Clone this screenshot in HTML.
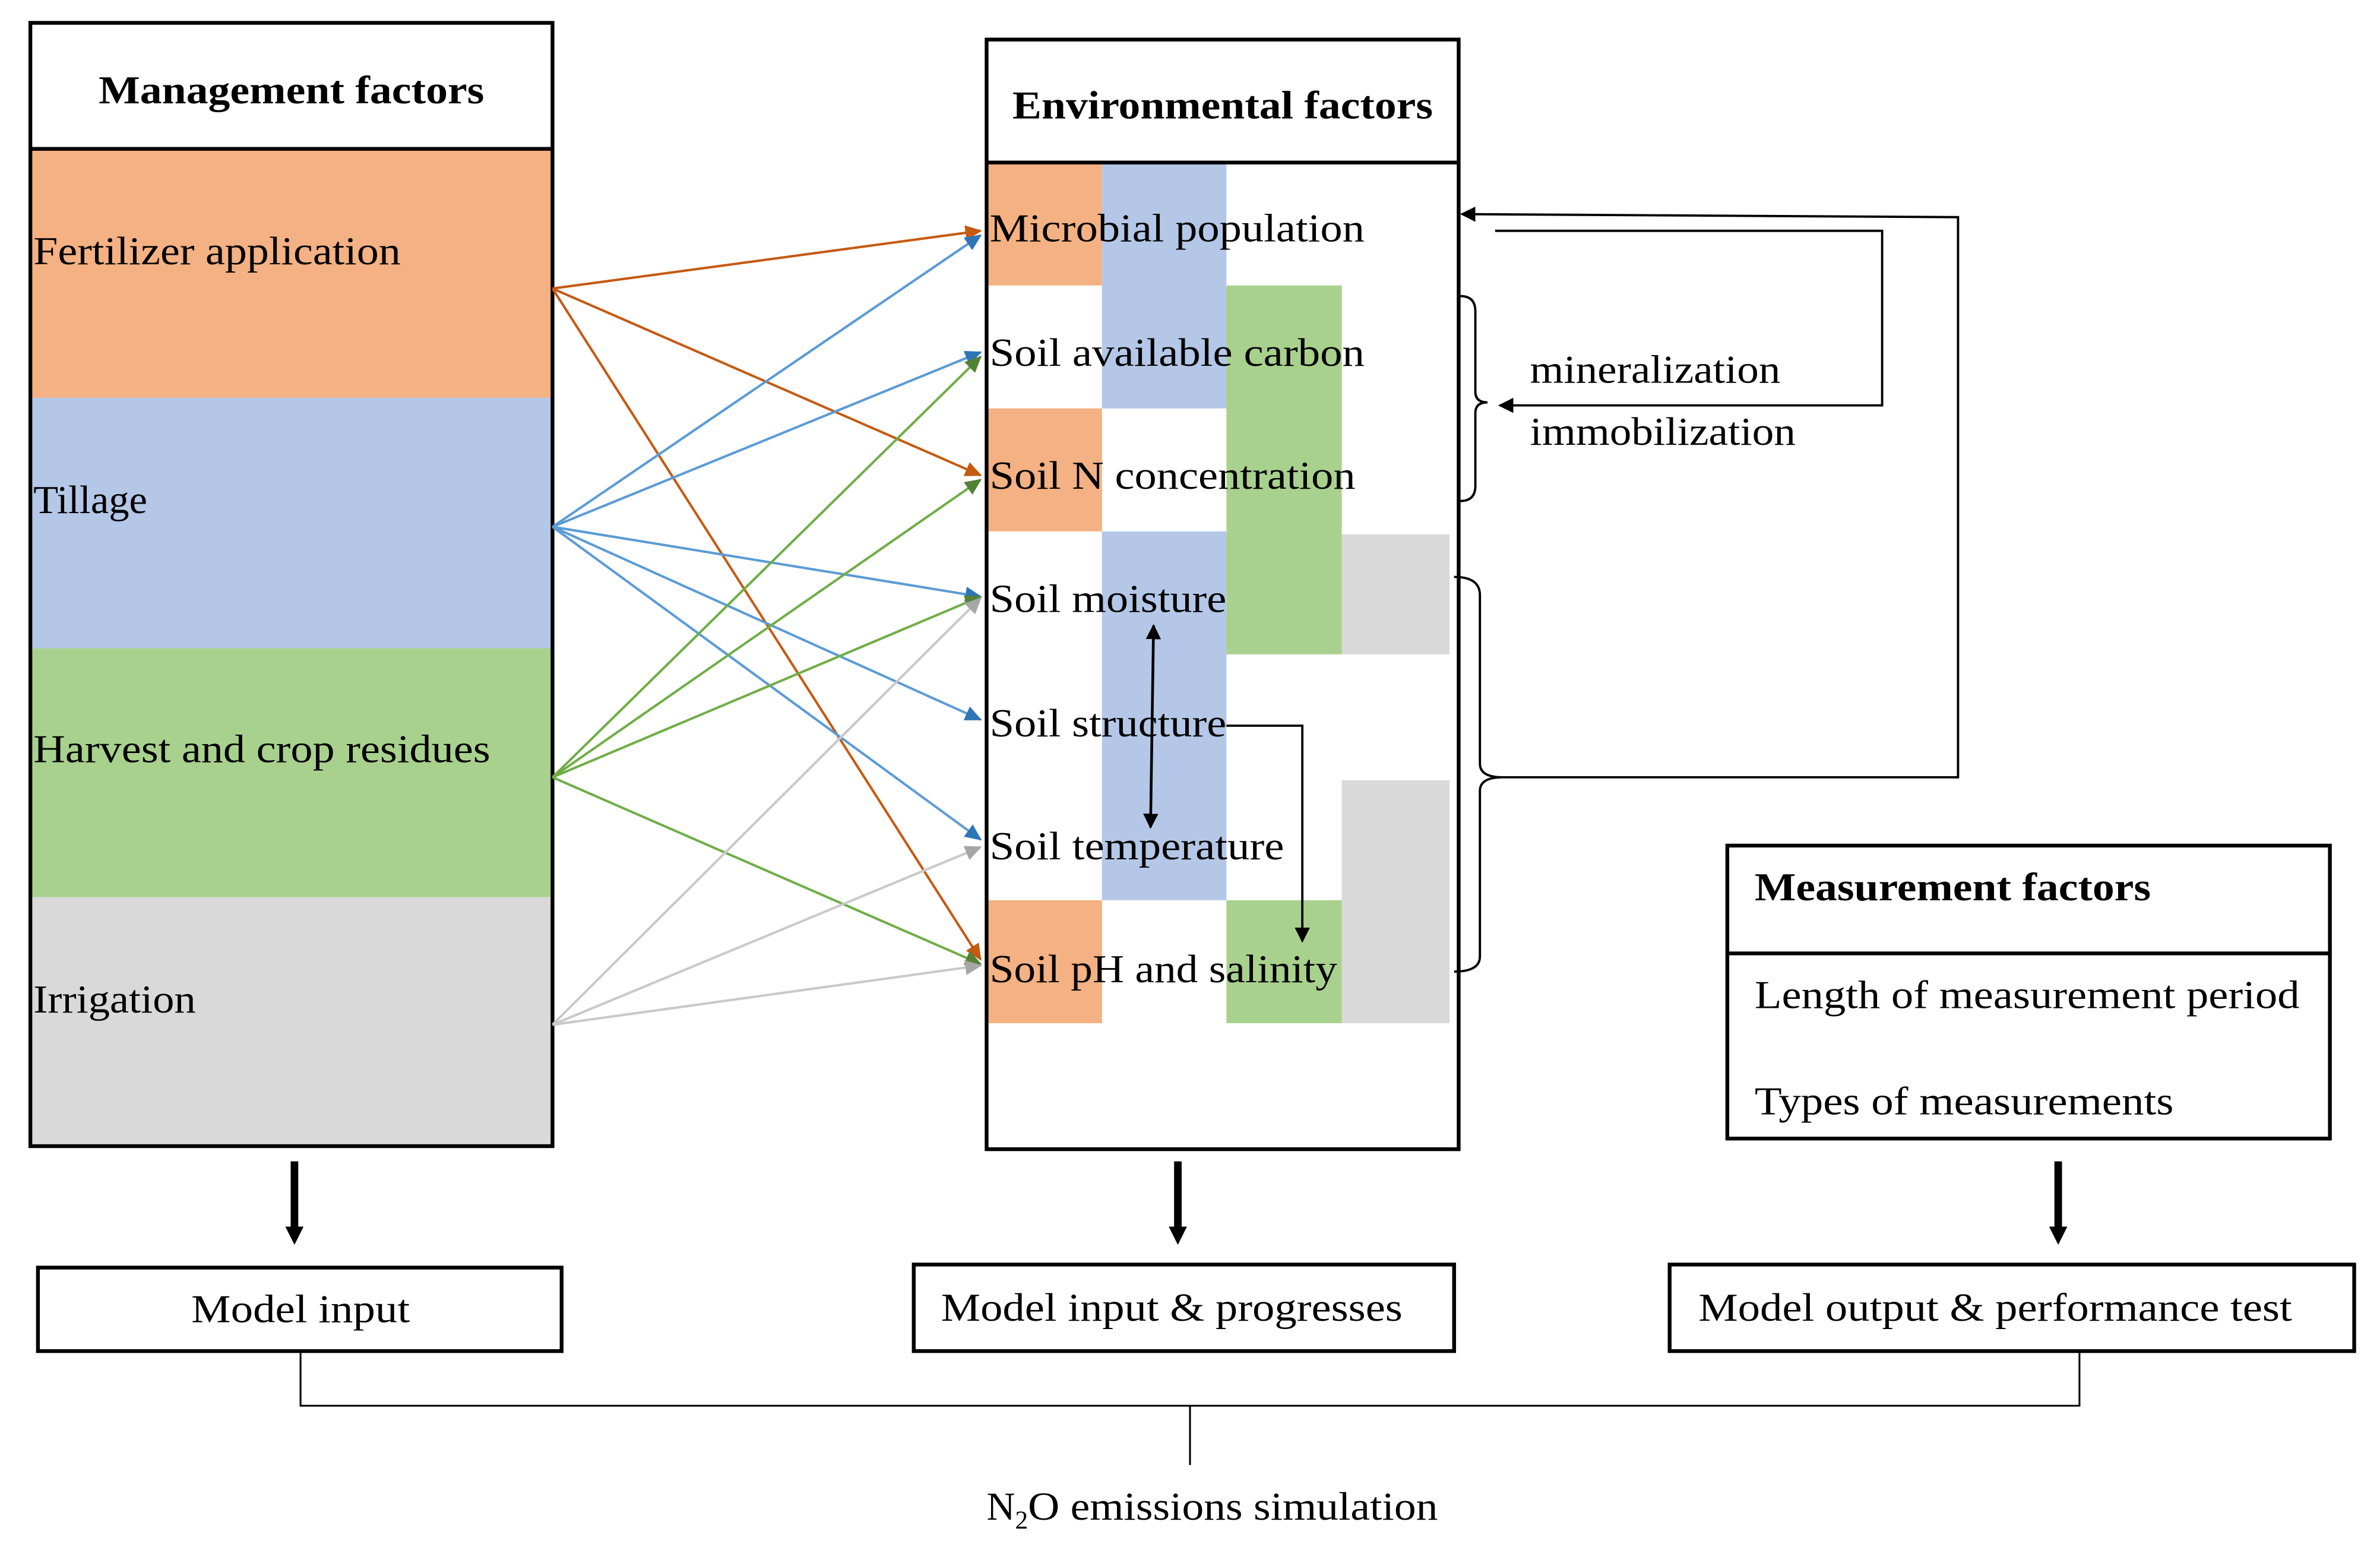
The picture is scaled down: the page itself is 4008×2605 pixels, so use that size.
<!DOCTYPE html>
<html><head><meta charset="utf-8"><style>html,body{margin:0;padding:0;background:#fff}svg{display:block}</style></head>
<body>
<svg width="4008" height="2605" viewBox="0 0 1568 1019" xmlns="http://www.w3.org/2000/svg" font-family="Liberation Serif, serif" font-size="26">
<defs>
<marker id="ao" markerWidth="11" markerHeight="10" refX="10" refY="5" orient="auto" markerUnits="userSpaceOnUse" viewBox="0 0 11 10"><path d="M0,0L11,5L0,10z" fill="#C55A11"/></marker>
<marker id="ab" markerWidth="11" markerHeight="10" refX="10" refY="5" orient="auto" markerUnits="userSpaceOnUse" viewBox="0 0 11 10"><path d="M0,0L11,5L0,10z" fill="#2E75B6"/></marker>
<marker id="ag" markerWidth="11" markerHeight="10" refX="10" refY="5" orient="auto" markerUnits="userSpaceOnUse" viewBox="0 0 11 10"><path d="M0,0L11,5L0,10z" fill="#548235"/></marker>
<marker id="ay" markerWidth="11" markerHeight="10" refX="10" refY="5" orient="auto" markerUnits="userSpaceOnUse" viewBox="0 0 11 10"><path d="M0,0L11,5L0,10z" fill="#A6A6A6"/></marker>
<marker id="ak" markerWidth="10" markerHeight="10" refX="9" refY="5" orient="auto" markerUnits="userSpaceOnUse" viewBox="0 0 10 10"><path d="M0,0L10,5L0,10z" fill="#000"/></marker>
<marker id="ak2" markerWidth="10" markerHeight="10" refX="9" refY="5" orient="auto-start-reverse" markerUnits="userSpaceOnUse" viewBox="0 0 10 10"><path d="M0,0L10,5L0,10z" fill="#000"/></marker>
</defs>
<rect x="20" y="98" width="344" height="164" fill="#F4B183"/>
<rect x="20" y="262" width="344" height="165" fill="#B4C7E7"/>
<rect x="20" y="427" width="344" height="164" fill="#A9D18E"/>
<rect x="20" y="591" width="344" height="164" fill="#D9D9D9"/>
<rect x="20" y="15" width="344" height="740" fill="none" stroke="#000" stroke-width="2.5"/>
<line x1="20" y1="98" x2="364" y2="98" stroke="#000" stroke-width="2.5"/>
<text x="65" y="68" font-weight="bold" textLength="254" lengthAdjust="spacingAndGlyphs">Management factors</text>
<text x="22" y="174" textLength="242" lengthAdjust="spacingAndGlyphs">Fertilizer  application</text>
<text x="22" y="338" textLength="75" lengthAdjust="spacingAndGlyphs">Tillage</text>
<text x="22" y="502" textLength="301" lengthAdjust="spacingAndGlyphs">Harvest and crop residues</text>
<text x="22" y="667" textLength="107" lengthAdjust="spacingAndGlyphs">Irrigation</text>
<g>
<rect x="650" y="107" width="76" height="81" fill="#F4B183"/>
<rect x="650" y="269" width="76" height="81" fill="#F4B183"/>
<rect x="650" y="593" width="76" height="81" fill="#F4B183"/>
<rect x="726" y="107" width="82" height="162" fill="#B4C7E7"/>
<rect x="726" y="350" width="82" height="243" fill="#B4C7E7"/>
<rect x="808" y="188" width="76" height="243" fill="#A9D18E"/>
<rect x="808" y="593" width="76" height="81" fill="#A9D18E"/>
<rect x="884" y="352" width="71" height="79" fill="#D9D9D9"/>
<rect x="884" y="514" width="71" height="160" fill="#D9D9D9"/>
</g>
<rect x="650" y="26" width="311" height="731" fill="none" stroke="#000" stroke-width="2.5"/>
<line x1="650" y1="107" x2="961" y2="107" stroke="#000" stroke-width="2.5"/>
<text x="667" y="78" font-weight="bold" textLength="277" lengthAdjust="spacingAndGlyphs">Environmental factors</text>
<g>
<text x="652" y="159" textLength="247" lengthAdjust="spacingAndGlyphs">Microbial  population</text>
<text x="652" y="241" textLength="247" lengthAdjust="spacingAndGlyphs">Soil  available  carbon</text>
<text x="652" y="322" textLength="241" lengthAdjust="spacingAndGlyphs">Soil N  concentration</text>
<text x="652" y="403" textLength="156" lengthAdjust="spacingAndGlyphs">Soil  moisture</text>
<text x="652" y="485" textLength="156" lengthAdjust="spacingAndGlyphs">Soil  structure</text>
<text x="652" y="566" textLength="194" lengthAdjust="spacingAndGlyphs">Soil  temperature</text>
<text x="652" y="647" textLength="229" lengthAdjust="spacingAndGlyphs">Soil  pH and  salinity</text>
</g>
<g stroke-width="1.6" fill="none">
<g stroke="#C55A11" marker-end="url(#ao)">
<line x1="364" y1="190" x2="646" y2="152"/>
<line x1="364" y1="190" x2="646" y2="313"/>
<line x1="364" y1="190" x2="646" y2="632"/>
</g>
<g stroke="#5B9BD5" marker-end="url(#ab)">
<line x1="364" y1="347" x2="646" y2="155"/>
<line x1="364" y1="347" x2="646" y2="232"/>
<line x1="364" y1="347" x2="646" y2="393"/>
<line x1="364" y1="347" x2="646" y2="474"/>
<line x1="364" y1="347" x2="646" y2="553"/>
</g>
<g stroke="#70AD47" marker-end="url(#ag)">
<line x1="364" y1="512" x2="646" y2="235"/>
<line x1="364" y1="512" x2="646" y2="316"/>
<line x1="364" y1="512" x2="646" y2="393"/>
<line x1="364" y1="512" x2="646" y2="635"/>
</g>
<g stroke="#C9C9C9" marker-end="url(#ay)">
<line x1="364" y1="675" x2="646" y2="394"/>
<line x1="364" y1="675" x2="646" y2="558"/>
<line x1="364" y1="675" x2="646" y2="636"/>
</g>
</g>
<line x1="760" y1="412" x2="758" y2="545" stroke="#000" stroke-width="1.8" marker-start="url(#ak2)" marker-end="url(#ak2)"/>
<polyline points="808,478 858,478 858,620" fill="none" stroke="#000" stroke-width="1.5" marker-end="url(#ak)"/>
<path d="M962,195 Q972,195 972,205 L972,258 Q972,265 980,265 Q972,265 972,272 L972,320 Q972,330 962,330" fill="none" stroke="#000" stroke-width="1.5"/>
<path d="M958,380 Q975,380 975,392 L975,503 Q975,512 990,512 Q975,512 975,521 L975,630 Q975,640 958,640" fill="none" stroke="#000" stroke-width="1.5"/>
<polyline points="990,512 1290,512 1290,143 963,141" fill="none" stroke="#000" stroke-width="1.5" marker-end="url(#ak)"/>
<polyline points="985,152 1240,152 1240,267 988,267" fill="none" stroke="#000" stroke-width="1.5" marker-end="url(#ak)"/>
<text x="1008" y="252" textLength="165" lengthAdjust="spacingAndGlyphs">mineralization</text>
<text x="1008" y="293" textLength="175" lengthAdjust="spacingAndGlyphs">immobilization</text>
<rect x="1138" y="557" width="397" height="193" fill="none" stroke="#000" stroke-width="2.5"/>
<line x1="1138" y1="628" x2="1535" y2="628" stroke="#000" stroke-width="2.5"/>
<text x="1156" y="593" font-weight="bold" textLength="261" lengthAdjust="spacingAndGlyphs">Measurement factors</text>
<text x="1156" y="664" textLength="359" lengthAdjust="spacingAndGlyphs">Length of measurement period</text>
<text x="1156" y="734" textLength="276" lengthAdjust="spacingAndGlyphs">Types of measurements</text>
<g stroke="#000" stroke-width="5">
<line x1="194" y1="765" x2="194" y2="812"/>
<line x1="776" y1="765" x2="776" y2="812"/>
<line x1="1356" y1="765" x2="1356" y2="812"/>
</g>
<g fill="#000">
<path d="M188,808L200,808L194,820z"/>
<path d="M770,808L782,808L776,820z"/>
<path d="M1350,808L1362,808L1356,820z"/>
</g>
<rect x="25" y="835" width="345" height="55" fill="none" stroke="#000" stroke-width="2.5"/>
<text x="126" y="871" textLength="144" lengthAdjust="spacingAndGlyphs">Model input</text>
<rect x="602" y="833" width="356" height="57" fill="none" stroke="#000" stroke-width="2.5"/>
<text x="620" y="870" textLength="304" lengthAdjust="spacingAndGlyphs">Model input &amp; progresses</text>
<rect x="1100" y="833" width="451" height="57" fill="none" stroke="#000" stroke-width="2.5"/>
<text x="1119" y="870" textLength="391" lengthAdjust="spacingAndGlyphs">Model output &amp; performance test</text>
<polyline points="198,890 198,926 1370,926 1370,890" fill="none" stroke="#000" stroke-width="1.2"/>
<line x1="784" y1="926" x2="784" y2="965" stroke="#000" stroke-width="1.2"/>
<text x="650" y="1001">N<tspan font-size="17" dy="6">2</tspan><tspan dy="-6" textLength="270" lengthAdjust="spacingAndGlyphs">O emissions simulation</tspan></text>
</svg>
</body></html>
